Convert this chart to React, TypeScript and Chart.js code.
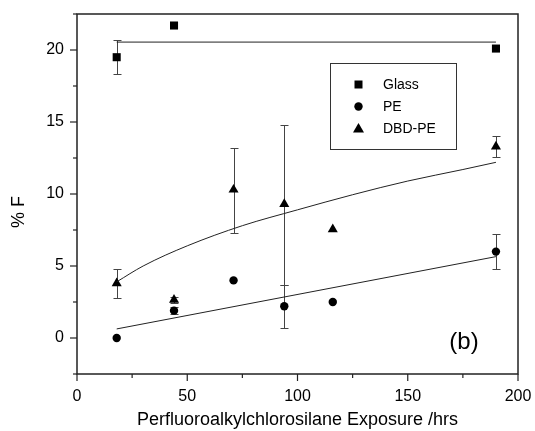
import React, { useEffect, useRef } from "react";
import { Chart, registerables } from "chart.js";

Chart.register(...registerables);

// ---- data ----
const glassX = [18, 44, 190];
const glassY = [19.5, 21.7, 20.1];
const glassErrLo = [1.2, 0, 0];
const glassErrHi = [1.2, 0, 0];

const peX = [18, 44, 71, 94, 116, 190];
const peY = [0, 1.9, 4.0, 2.2, 2.5, 6.0];
const peErrLo = [0, 0.25, 0, 1.5, 0, 1.2];
const peErrHi = [0, 0.25, 0, 1.5, 0, 1.2];

const dbdX = [18, 44, 71, 94, 116, 190];
const dbdY = [3.8, 2.65, 10.3, 9.3, 7.55, 13.3];
const dbdErrLo = [1.0, 0.2, 3.0, 5.65, 0, 0.7];
const dbdErrHi = [1.0, 0.2, 2.9, 5.5, 0, 0.7];

const glassFitX = [18, 190];
const glassFitY = [20.55, 20.55];
const peFitX = [18, 190];
const peFitY = [0.63, 5.65];
const dbdFitX = [18, 30, 50, 75, 100, 125, 150, 175, 190];
const dbdFitY = [3.9, 5.0, 6.4, 7.8, 8.9, 9.95, 10.9, 11.7, 12.2];

const xTickMajor = [0, 50, 100, 150, 200];
const yTickMajor = [0, 5, 10, 15, 20];

const legendLabels = ["Glass", "PE", "DBD-PE"];
const xTitle = "Perfluoroalkylchlorosilane Exposure /hrs";
const yTitle = "% F";
const panelLabel = "(b)";

const FONT = '"Liberation Sans", Arial, sans-serif';

const pts = (xs: number[], ys: number[]) => xs.map((x, i) => ({ x, y: ys[i] }));

function drawMarker(ctx: CanvasRenderingContext2D, shape: string, x: number, y: number) {
  ctx.fillStyle = "#000";
  ctx.beginPath();
  if (shape === "rect") {
    ctx.rect(x - 4, y - 4, 8, 8);
  } else if (shape === "circle") {
    ctx.arc(x, y, 4.2, 0, Math.PI * 2);
  } else {
    ctx.moveTo(x, y - 5.5);
    ctx.lineTo(x + 5.5, y + 4);
    ctx.lineTo(x - 5.5, y + 4);
    ctx.closePath();
  }
  ctx.fill();
}

const errSets = [
  { xs: glassX, ys: glassY, lo: glassErrLo, hi: glassErrHi },
  { xs: peX, ys: peY, lo: peErrLo, hi: peErrHi },
  { xs: dbdX, ys: dbdY, lo: dbdErrLo, hi: dbdErrHi },
];

const decorPlugin = {
  id: "decor",
  beforeDatasetsDraw(chart: any) {
    const ctx = chart.ctx as CanvasRenderingContext2D;
    const xs = chart.scales.x;
    const ys = chart.scales.y;
    ctx.save();
    ctx.strokeStyle = "#444";
    ctx.lineWidth = 1;
    errSets.forEach((s) => {
      s.xs.forEach((xv, i) => {
        if (!s.lo[i] && !s.hi[i]) return;
        const px = Math.round(xs.getPixelForValue(xv)) + 0.5;
        const top = Math.round(ys.getPixelForValue(s.ys[i] + s.hi[i])) + 0.5;
        const bot = Math.round(ys.getPixelForValue(s.ys[i] - s.lo[i])) + 0.5;
        ctx.beginPath();
        ctx.moveTo(px, top);
        ctx.lineTo(px, bot);
        ctx.moveTo(px - 4, top);
        ctx.lineTo(px + 4, top);
        ctx.moveTo(px - 4, bot);
        ctx.lineTo(px + 4, bot);
        ctx.stroke();
      });
    });
    ctx.restore();
  },
  afterDraw(chart: any) {
    const ctx = chart.ctx as CanvasRenderingContext2D;
    const a = chart.chartArea;
    const xs = chart.scales.x;
    const ys = chart.scales.y;
    ctx.save();
    // frame
    ctx.strokeStyle = "#222";
    ctx.lineWidth = 1.5;
    ctx.strokeRect(a.left, a.top, a.right - a.left, a.bottom - a.top);
    // ticks
    ctx.lineWidth = 1.2;
    for (let v = -2.5; v <= 22.5 + 1e-9; v += 2.5) {
      const major = yTickMajor.includes(v);
      const py = ys.getPixelForValue(v);
      ctx.beginPath();
      ctx.moveTo(a.left, py);
      ctx.lineTo(a.left - (major ? 7 : 4), py);
      ctx.stroke();
    }
    for (let v = 0; v <= 200; v += 25) {
      const major = xTickMajor.includes(v);
      const px = xs.getPixelForValue(v);
      ctx.beginPath();
      ctx.moveTo(px, a.bottom);
      ctx.lineTo(px, a.bottom + (major ? 7 : 4));
      ctx.stroke();
    }
    // titles
    ctx.fillStyle = "#000";
    ctx.font = `18px ${FONT}`;
    ctx.textAlign = "center";
    ctx.textBaseline = "middle";
    ctx.fillText(xTitle, (a.left + a.right) / 2, 420);
    ctx.save();
    ctx.translate(19, 212);
    ctx.rotate(-Math.PI / 2);
    ctx.fillText(yTitle, 0, 0);
    ctx.restore();
    // panel label
    ctx.font = `24px ${FONT}`;
    ctx.fillText(panelLabel, 464, 342);
    // legend
    ctx.strokeStyle = "#333";
    ctx.lineWidth = 1;
    ctx.strokeRect(330.5, 63.5, 126, 86);
    const shapes = ["rect", "circle", "triangle"];
    const rows = [84.5, 106.5, 128.5];
    ctx.font = `14px ${FONT}`;
    ctx.textAlign = "left";
    legendLabels.forEach((l, i) => {
      drawMarker(ctx, shapes[i], 358.5, rows[i]);
      ctx.fillStyle = "#000";
      ctx.fillText(l, 383, rows[i] + 0.5);
    });
    ctx.restore();
  },
};

export default function App() {
  const ref = useRef<HTMLCanvasElement | null>(null);
  useEffect(() => {
    if (!ref.current) return;
    const fitStyle = {
      type: "line" as const,
      showLine: true,
      borderColor: "#222",
      borderWidth: 1,
      pointRadius: 0,
      fill: false,
    };
    const chart = new Chart(ref.current, {
      type: "scatter",
      data: {
        datasets: [
          { ...fitStyle, label: "glassFit", data: pts(glassFitX, glassFitY) },
          { ...fitStyle, label: "peFit", data: pts(peFitX, peFitY) },
          { ...fitStyle, label: "dbdFit", data: pts(dbdFitX, dbdFitY), cubicInterpolationMode: "monotone" },
          {
            label: legendLabels[0],
            data: pts(glassX, glassY),
            pointStyle: "rect",
            pointRadius: 5.7,
            backgroundColor: "#000",
            borderColor: "#000",
            borderWidth: 0,
          },
          {
            label: legendLabels[1],
            data: pts(peX, peY),
            pointStyle: "circle",
            pointRadius: 4.2,
            backgroundColor: "#000",
            borderColor: "#000",
            borderWidth: 0,
          },
          {
            label: legendLabels[2],
            data: pts(dbdX, dbdY),
            pointStyle: "triangle",
            pointRadius: 5.8,
            backgroundColor: "#000",
            borderColor: "#000",
            borderWidth: 0,
          },
        ] as any,
      },
      options: {
        animation: false,
        responsive: false,
        events: [],
        layout: { padding: { top: 14, right: 17, left: 0, bottom: 0 } },
        plugins: { legend: { display: false }, tooltip: { enabled: false } },
        scales: {
          x: {
            type: "linear",
            min: 0,
            max: 200,
            afterFit: (s: any) => {
              s.height = 57;
              s.paddingLeft = 0;
              s.paddingRight = 0;
            },
            border: { display: false },
            grid: { display: false, drawTicks: false },
            ticks: {
              stepSize: 25,
              padding: 13,
              color: "#000",
              font: { family: FONT, size: 16 },
              maxRotation: 0,
              autoSkip: false,
              callback: (v: any) => (xTickMajor.includes(Number(v)) ? String(v) : ""),
            },
          },
          y: {
            type: "linear",
            min: -2.5,
            max: 22.5,
            afterFit: (s: any) => {
              s.width = 77;
              s.paddingTop = 0;
              s.paddingBottom = 0;
            },
            border: { display: false },
            grid: { display: false, drawTicks: false },
            ticks: {
              stepSize: 2.5,
              padding: 13,
              color: "#000",
              font: { family: FONT, size: 16 },
              autoSkip: false,
              callback: (v: any) => (yTickMajor.includes(Number(v)) ? String(v) : ""),
            },
          },
        },
      },
      plugins: [decorPlugin],
    });
    return () => chart.destroy();
  }, []);
  return (
    <div style={{ position: "absolute", left: 0, top: 0, width: 535, height: 431, background: "#fff" }}>
      <canvas ref={ref} width={535} height={431} />
    </div>
  );
}
